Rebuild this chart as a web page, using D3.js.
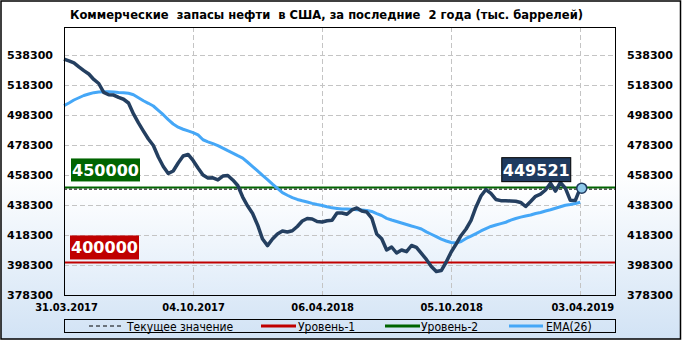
<!DOCTYPE html>
<html><head><meta charset="utf-8">
<script src="https://cdn.jsdelivr.net/npm/d3@7/dist/d3.min.js"></script>
<style>html,body{margin:0;padding:0;background:#fff;}svg{display:block;}</style>
</head><body>
<script>
const title = "Коммерческие  запасы нефти  в США, за последние  2 года (тыс. баррелей)";
const xTickIndex = [0, 26, 52, 78, 104];
const xTickLabels = ["31.03.2017", "04.10.2017", "06.04.2018", "05.10.2018", "03.04.2019"];
const yTicks = [378300, 398300, 418300, 438300, 458300, 478300, 498300, 518300, 538300];
const stocks = [
535600,534400,533100,530400,527900,525600,522000,519300,513400,511800,
511600,510000,508800,506300,499000,493000,487600,482300,478000,470300,
464000,459300,461000,466300,471000,472000,468000,463000,458300,456300,
456400,455000,457600,458000,455000,451300,443600,437600,432600,425000,
415600,411200,415600,419000,421000,420300,421100,424000,427600,429300,
429000,427300,427000,427800,428100,433000,433000,432100,435000,436300,
434300,433600,429600,419000,415800,408300,410300,406300,408300,407200,
411300,410000,406000,402000,397300,394000,394600,400300,407000,412300,
418000,422300,428000,437000,444300,448600,446000,442000,441200,441200,
441000,440800,440000,437300,440600,444100,445500,448300,452800,447600,
453300,449600,441400,441300,449521];
const ema26 = [
504600,506300,508300,509800,511300,512300,513200,513600,513800,513800,
513600,513300,513200,512800,511800,509800,507800,506100,504300,501400,
498500,495200,492300,490200,488800,487700,486600,485000,481800,480400,
479200,477900,476200,474500,472900,471200,469600,466800,463900,461000,
458000,455200,452200,449400,446500,444800,443200,442000,441100,440300,
439400,438600,438000,437100,436400,436000,435600,435600,435500,435200,
435000,434700,434000,432600,431300,429400,428300,427300,426300,425300,
424300,423400,422300,420400,418800,417200,415500,414300,413300,413000,
414000,416000,417600,419200,421000,422600,424000,425000,425900,426800,
428200,429300,430200,431000,431600,432600,433300,434300,435100,436100,
437100,438100,438600,439300,440100];
const level1 = 400000;
const level2 = 450000;
const currentValue = 449521;
const legendLabels = ["Текущее значение", "Уровень-1", "Уровень-2", "EMA(26)"];

const W = 682, H = 341;
const L = 64, R = 615, T = 27, B = 295;
const svg = d3.select("body").append("svg").attr("width", W).attr("height", H);
const defs = svg.append("defs");
const g1 = defs.append("linearGradient").attr("id","bgOuter").attr("x1",0).attr("y1",0).attr("x2",0).attr("y2",1);
g1.append("stop").attr("offset","0").attr("stop-color","#ffffff");
g1.append("stop").attr("offset","0.5").attr("stop-color","#ffffff");
g1.append("stop").attr("offset","1").attr("stop-color","#d2e3f5");
const g2 = defs.append("linearGradient").attr("id","bgPlot").attr("x1",0).attr("y1",0).attr("x2",0).attr("y2",1);
g2.append("stop").attr("offset","0").attr("stop-color","#ffffff");
g2.append("stop").attr("offset","0.6").attr("stop-color","#ffffff");
g2.append("stop").attr("offset","1").attr("stop-color","#e0ecf9");

svg.append("rect").attr("x",1).attr("y",1).attr("width",W-2.5).attr("height",H-3)
  .attr("fill","url(#bgOuter)").attr("stroke","#000").attr("stroke-width",1.5);

const x = d3.scaleLinear().domain([0, 111]).range([L, R]);
const y = d3.scaleLinear().domain([378300, 538300]).range([B, 55]);

svg.append("rect").attr("x",L).attr("y",T).attr("width",R-L).attr("height",B-T).attr("fill","url(#bgPlot)");

// grid
svg.append("g").selectAll("line").data(yTicks).join("line")
  .attr("x1",L).attr("x2",R).attr("y1",d=>Math.round(y(d))+0.5).attr("y2",d=>Math.round(y(d))+0.5)
  .attr("stroke","#c4c4c4").attr("stroke-dasharray","5,3");
svg.append("g").selectAll("line").data(xTickIndex).join("line")
  .attr("y1",T).attr("y2",B).attr("x1",d=>Math.round(x(d))+0.5).attr("x2",d=>Math.round(x(d))+0.5)
  .attr("stroke","#c4c4c4").attr("stroke-dasharray","5,3");

// axes labels
const axL = svg.append("g").attr("transform",`translate(${L-11},0)`)
  .call(d3.axisLeft(y).tickValues(yTicks).tickSize(0).tickPadding(0).tickFormat(d3.format("d")));
const axR = svg.append("g").attr("transform",`translate(${R+12},0)`)
  .call(d3.axisRight(y).tickValues(yTicks).tickSize(0).tickPadding(0).tickFormat(d3.format("d")));
[axL, axR].forEach(a => {
  a.select(".domain").remove();
  a.selectAll("text").attr("font-family","DejaVu Sans").attr("font-weight","bold").attr("font-size","11px").attr("fill","#000");
});
const axB = svg.append("g").attr("transform",`translate(0,${B+8})`)
  .call(d3.axisBottom(x).tickValues(xTickIndex).tickSize(0).tickPadding(0).tickFormat((d,i)=>xTickLabels[i]));
axB.select(".domain").remove();
axB.selectAll("text").attr("font-family","DejaVu Sans Condensed").attr("font-weight","bold").attr("font-size","11px").attr("fill","#000")
  .attr("dx",(d,i)=> i===0 ? 2 : (i===4 ? 2 : 0));

// level lines
svg.append("line").attr("x1",L).attr("x2",R).attr("y1",y(level1)).attr("y2",y(level1)).attr("stroke","#c00000").attr("stroke-width",2);
svg.append("line").attr("x1",L).attr("x2",R).attr("y1",y(level2)).attr("y2",y(level2)).attr("stroke","#006400").attr("stroke-width",2);
svg.append("line").attr("x1",L).attr("x2",R).attr("y1",y(currentValue)+1).attr("y2",y(currentValue)+1)
  .attr("stroke","#000").attr("stroke-width",1).attr("stroke-dasharray","3,2");

// EMA
const line = d3.line().x((d,i)=>x(i)).y(d=>y(d)).curve(d3.curveLinear);
svg.append("path").datum(ema26).attr("d",line).attr("fill","none").attr("stroke","#45a7f7").attr("stroke-width",3).attr("stroke-linejoin","round");
// Stocks
svg.append("path").datum(stocks).attr("d",line).attr("fill","none").attr("stroke","#243f60").attr("stroke-width",3.5).attr("stroke-linejoin","round");

// level labels
function box(x0, y0, w, h, fill, stroke, txt) {
  svg.append("rect").attr("x",x0).attr("y",y0).attr("width",w).attr("height",h).attr("fill",fill)
    .attr("stroke",stroke||"none").attr("stroke-width",1);
  svg.append("text").attr("x",x0+w/2).attr("y",y0+h/2+6).attr("text-anchor","middle")
    .attr("font-family","DejaVu Sans").attr("font-weight","bold").attr("font-size","16px").attr("fill","#fff").text(txt);
}
box(71, y(level2)-29, 69, 23, "#006400", null, String(level2));
box(70, y(level1)-27, 69, 24, "#c00000", null, String(level1));
const lastI = stocks.length - 1;
box(x(lastI)-78.5, y(currentValue)-30.5, 69, 24, "#1f3a5f", "#000", String(currentValue));

// end marker
svg.append("circle").attr("cx",x(lastI)+1.5).attr("cy",y(currentValue)).attr("r",5)
  .attr("fill","#8fc9ea").attr("stroke","#1f3a5f").attr("stroke-width",1.5);

// plot frame
svg.append("rect").attr("x",L+0.5).attr("y",T+0.5).attr("width",R-L).attr("height",B-T).attr("fill","none").attr("stroke","#000");

// title
svg.append("text").attr("x",70).attr("y",19).attr("font-family","DejaVu Sans Condensed").attr("font-weight","bold")
  .attr("font-size","13px").attr("textLength",513).attr("lengthAdjust","spacingAndGlyphs").attr("fill","#000")
  .attr("xml:space","preserve").style("white-space","pre").text(title);

// legend
svg.append("rect").attr("x",L+0.5).attr("y",319.5).attr("width",R-L).attr("height",13).attr("fill","none").attr("stroke","#000");
const legItems = [
  {lx:[89,122], tx:127, color:"#000", dash:"4,3", w:1},
  {lx:[261,296], tx:298, color:"#c00000", dash:null, w:3},
  {lx:[385,420], tx:421, color:"#006400", dash:null, w:3},
  {lx:[509,543], tx:546, color:"#45a7f7", dash:null, w:3}
];
legItems.forEach((d,i)=>{
  svg.append("line").attr("x1",d.lx[0]).attr("x2",d.lx[1]).attr("y1",326).attr("y2",326)
    .attr("stroke",d.color).attr("stroke-width",d.w).attr("stroke-dasharray",d.dash);
  svg.append("text").attr("x",d.tx).attr("y",330.5).attr("font-family","DejaVu Sans Condensed")
    .attr("font-size","12px").attr("fill","#000").text(legendLabels[i]);
});
</script>
</body></html>
